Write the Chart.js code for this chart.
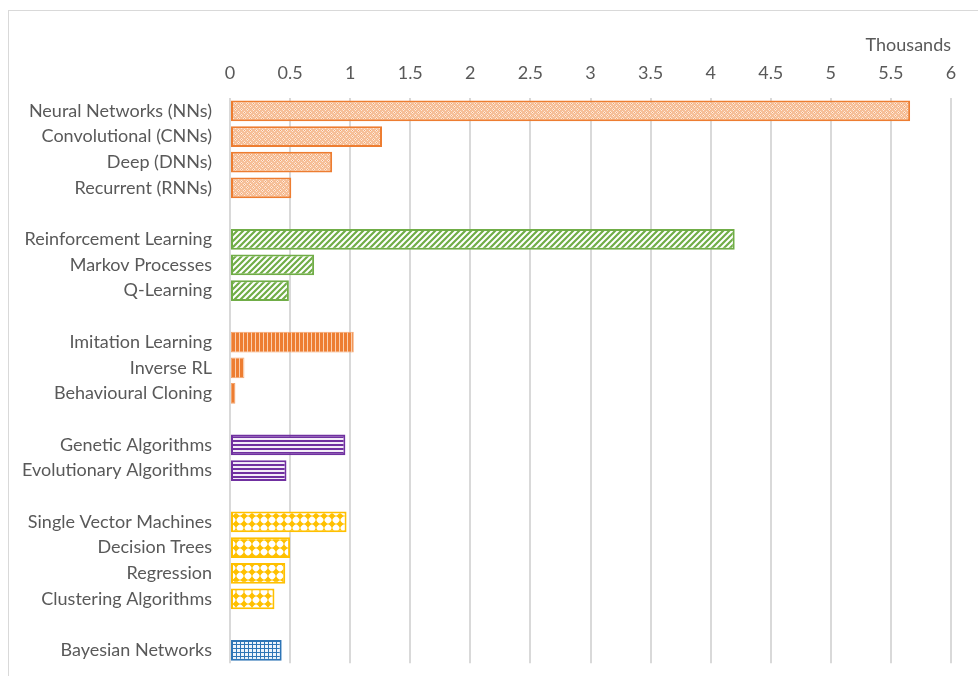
<!DOCTYPE html>
<html>
<head>
<meta charset="utf-8">
<script src="https://cdn.jsdelivr.net/npm/chart.js@4.4.1/dist/chart.umd.min.js"></script>
<style>
    html, body { margin: 0; padding: 0; background: #fff; overflow: hidden; }
    #wrap { position: relative; width: 978px; height: 676px; overflow: hidden; }
    #frame { position: absolute; left: 8px; top: 10px; width: 980px; height: 680px; border: 1px solid #d9d9d9; box-sizing: border-box; }
    canvas { position: absolute; left: 0; top: 0; }
</style>
</head>
<body>
<div id="wrap">
    <div id="frame"></div>
    <canvas id="chart" width="978" height="692"></canvas>
</div>
<script>
// categories, '' rows are spacers between groups
const categories = [
    'Neural Networks (NNs)', 'Convolutional (CNNs)', 'Deep (DNNs)', 'Recurrent (RNNs)', '',
    'Reinforcement Learning', 'Markov Processes', 'Q-Learning', '',
    'Imitation Learning', 'Inverse RL', 'Behavioural Cloning', '',
    'Genetic Algorithms', 'Evolutionary Algorithms', '',
    'Single Vector Machines', 'Decision Trees', 'Regression', 'Clustering Algorithms', '',
    'Bayesian Networks'
];
// values in thousands
const values = [
    5.66, 1.265, 0.85, 0.51, null,
    4.20, 0.70, 0.49, null,
    1.03, 0.12, 0.045, null,
    0.96, 0.47, null,
    0.97, 0.50, 0.46, 0.37, null,
    0.43
];
// which fill style each row uses
const styleKeys = [
    'nn', 'nn', 'nn', 'nn', null,
    'rl', 'rl', 'rl', null,
    'il', 'il', 'il', null,
    'ga', 'ga', null,
    'ml', 'ml', 'ml', 'ml', null,
    'bn'
];
const tickValues = [0, 0.5, 1, 1.5, 2, 2.5, 3, 3.5, 4, 4.5, 5, 5.5, 6];

const ORANGE = '#ed7d31';
const GREEN = '#70ad47';
const PURPLE = '#7030a0';
const GOLD = '#ffc000';
const BLUE = '#2e75b6';

function makeTile(w, h, draw) {
    const c = document.createElement('canvas');
    c.width = w;
    c.height = h;
    const g = c.getContext('2d');
    draw(g);
    return document.getElementById('chart').getContext('2d').createPattern(c, 'repeat');
}

const fills = {
    nn: makeTile(6, 6, g => {
        g.fillStyle = '#f6bf98';
        g.fillRect(0, 0, 6, 6);
        g.fillStyle = '#fde9db';
        g.fillRect(1, 0, 1, 1); g.fillRect(0, 1, 1, 1); g.fillRect(2, 1, 1, 1); g.fillRect(1, 2, 1, 1);
        g.fillRect(4, 3, 1, 1); g.fillRect(3, 4, 1, 1); g.fillRect(5, 4, 1, 1); g.fillRect(4, 5, 1, 1);
        g.fillStyle = '#f1a36c';
        g.fillRect(1, 1, 1, 1); g.fillRect(4, 4, 1, 1);
    }),
    rl: makeTile(6, 6, g => {
        g.fillStyle = '#fff';
        g.fillRect(0, 0, 6, 6);
        g.strokeStyle = GREEN;
        g.lineWidth = 2.2;
        g.beginPath();
        g.moveTo(-1, 7); g.lineTo(7, -1);
        g.moveTo(-4, 4); g.lineTo(4, -4);
        g.moveTo(2, 10); g.lineTo(10, 2);
        g.stroke();
    }),
    il: makeTile(4, 4, g => {
        g.fillStyle = '#fbcfae';
        g.fillRect(0, 0, 4, 4);
        g.fillStyle = ORANGE;
        g.fillRect(0, 0, 3, 4);
    }),
    ga: makeTile(4, 4, g => {
        g.fillStyle = '#f3ecf8';
        g.fillRect(0, 0, 4, 4);
        g.fillStyle = PURPLE;
        g.fillRect(0, 0, 4, 2);
    }),
    ml: makeTile(8, 8, g => {
        g.fillStyle = '#fff';
        g.fillRect(0, 0, 8, 8);
        g.fillStyle = GOLD;
        g.beginPath();
        g.moveTo(4, 0.5); g.lineTo(7.5, 4); g.lineTo(4, 7.5); g.lineTo(0.5, 4);
        g.closePath();
        g.fill();
        g.fillRect(0, 3.5, 8, 1);
        g.fillRect(3.5, 0, 1, 8);
    }),
    bn: makeTile(4, 4, g => {
        g.fillStyle = '#eef4fb';
        g.fillRect(0, 0, 4, 4);
        g.fillStyle = BLUE;
        g.fillRect(0, 0, 4, 1);
        g.fillRect(0, 0, 1, 4);
    })
};
const lineColors = { nn: ORANGE, rl: GREEN, il: '#f4a46c', ga: PURPLE, ml: GOLD, bn: BLUE };

const textColor = '#595959';
const fontFamily = 'Lato, "Open Sans", sans-serif';

new Chart(document.getElementById('chart'), {
    type: 'bar',
    data: {
        labels: categories,
        datasets: [{
            data: values,
            backgroundColor: styleKeys.map(k => k ? fills[k] : 'transparent'),
            borderColor: styleKeys.map(k => k ? lineColors[k] : 'transparent'),
            borderWidth: styleKeys.map(k => k === 'il' ? 1 : 2),
            borderSkipped: false,
            barPercentage: 0.85,
            categoryPercentage: 0.95
        }]
    },
    options: {
        indexAxis: 'y',
        responsive: false,
        animation: false,
        layout: {
            padding: { top: 30, right: 27, bottom: 0, left: 0 }
        },
        plugins: {
            legend: { display: false },
            tooltip: { enabled: false }
        },
        scales: {
            x: {
                position: 'top',
                min: 0,
                max: 6,
                afterBuildTicks: scale => {
                    scale.ticks = tickValues.map(v => ({ value: v }));
                },
                afterFit: scale => {
                    scale.height = 68;
                },
                grid: {
                    color: '#d9d9d9',
                    lineWidth: 2,
                    drawTicks: false
                },
                border: { display: false },
                ticks: {
                    color: textColor,
                    font: { family: fontFamily, size: 18 },
                    padding: 14,
                    maxRotation: 0,
                    callback: v => String(v)
                },
                title: {
                    display: true,
                    text: 'Thousands',
                    align: 'end',
                    color: textColor,
                    font: { family: fontFamily, size: 18 },
                    padding: { top: 4, bottom: 0 }
                }
            },
            y: {
                afterFit: scale => {
                    scale.width = 230;
                },
                grid: { display: false, drawTicks: false },
                border: { display: false },
                ticks: {
                    color: textColor,
                    font: { family: fontFamily, size: 18 },
                    padding: 18,
                    autoSkip: false
                }
            }
        }
    }
});
</script>
</body>
</html>
